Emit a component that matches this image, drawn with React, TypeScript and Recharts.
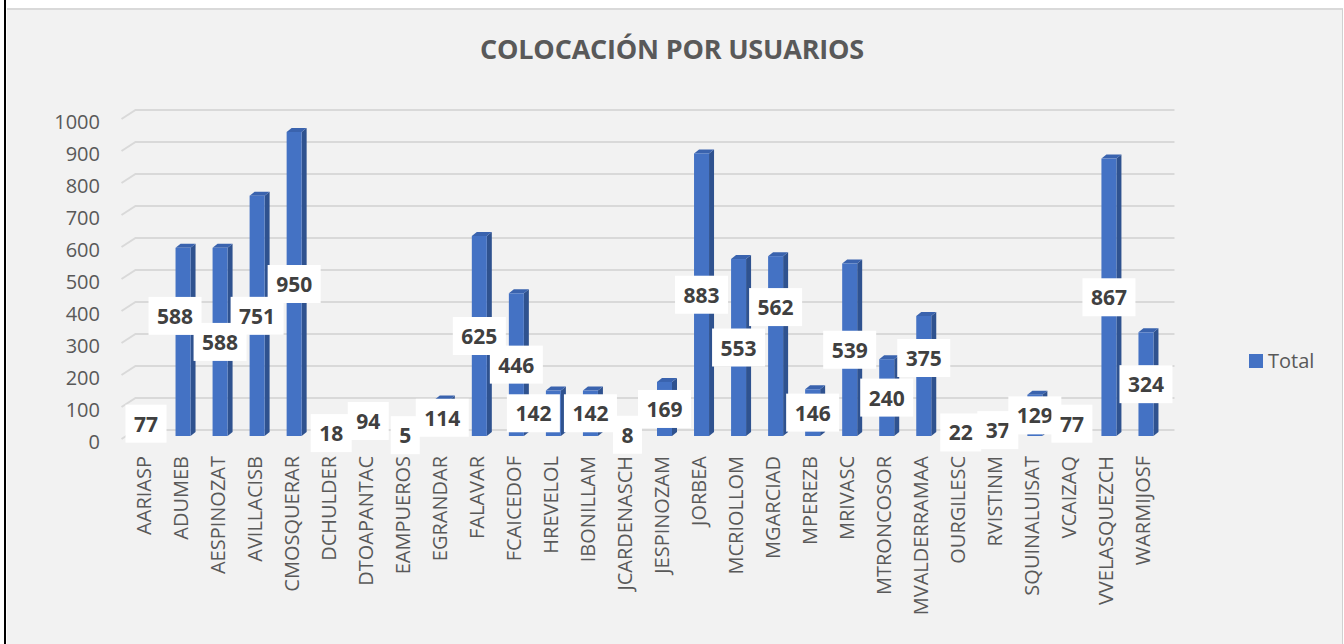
import React from 'react';
import { BarChart, Bar, XAxis, YAxis, CartesianGrid, LabelList } from 'recharts';

const usuarios = [
  'AARIASP', 'ADUMEB', 'AESPINOZAT', 'AVILLACISB', 'CMOSQUERAR', 'DCHULDER', 'DTOAPANTAC',
  'EAMPUEROS', 'EGRANDAR', 'FALAVAR', 'FCAICEDOF', 'HREVELOL', 'IBONILLAM', 'JCARDENASCH',
  'JESPINOZAM', 'JORBEA', 'MCRIOLLOM', 'MGARCIAD', 'MPEREZB', 'MRIVASC', 'MTRONCOSOR',
  'MVALDERRAMAA', 'OURGILESC', 'RVISTINM', 'SQUINALUISAT', 'VCAIZAQ', 'VVELASQUEZCH', 'WARMIJOSF',
];
const total = [
  77, 588, 588, 751, 950, 18, 94,
  5, 114, 625, 446, 142, 142, 8,
  169, 883, 553, 562, 146, 539, 240,
  375, 22, 37, 129, 77, 867, 324,
];
const yTicks = [0, 100, 200, 300, 400, 500, 600, 700, 800, 900, 1000];

// Excel moved a few labels so they would not overlap
const labelNudge: Record<string, { dx: number; dy: number }> = {
  ADUMEB: { dx: -8, dy: -26 },
  HREVELOL: { dx: -20, dy: 0 },
  MGARCIAD: { dx: 0, dy: -39 },
  MVALDERRAMAA: { dx: 0, dy: -18 },
};

const data = usuarios.map((u, i) => ({ usuario: u, total: total[i] }));

const FONT = '"Open Sans", "Liberation Sans", sans-serif';
const TEXT = '#595959';
const DEPTH_X = 5;
const DEPTH_Y = 4;

const Column3D = (props: any) => {
  const { x, y, width, height } = props;
  if (width == null || height == null) return null;
  const h = Math.max(height, 0);
  return (
    <g>
      <polygon
        points={`${x + width},${y} ${x + width + DEPTH_X},${y - DEPTH_Y} ${x + width + DEPTH_X},${y + h - DEPTH_Y} ${x + width},${y + h}`}
        fill="#2F528F"
      />
      <polygon
        points={`${x},${y} ${x + DEPTH_X},${y - DEPTH_Y} ${x + width + DEPTH_X},${y - DEPTH_Y} ${x + width},${y}`}
        fill="#3A63AE"
      />
      <rect x={x} y={y} width={width} height={h} fill="#4472C4" />
    </g>
  );
};

const GridLine = (props: any) => {
  const { x1, x2, y1 } = props;
  return (
    <path
      d={`M${x1 - 6},${y1 + 3} L${x1 + 8},${y1 - 6} L${x2 + 10},${y1 - 6}`}
      stroke="#D9D9D9"
      strokeWidth={2}
      fill="none"
    />
  );
};

const DataLabel = (props: any) => {
  const { x, y, width, height, value, index } = props;
  const name = usuarios[index];
  const n = labelNudge[name] || { dx: 0, dy: 0 };
  const cx = x + width / 2 + n.dx;
  const cy = y + height / 2 + n.dy;
  const w = String(value).length * 12 + 17;
  const hh = 38;
  return (
    <g>
      <rect x={cx - w / 2} y={cy - hh / 2} width={w} height={hh} fill="#ffffff" />
      <text
        x={cx}
        y={cy}
        textAnchor="middle"
        dominantBaseline="central"
        fontFamily={FONT}
        fontWeight={700}
        fontSize={21}
        fill="#404040"
      >
        {value}
      </text>
    </g>
  );
};

const CategoryTick = (props: any) => {
  const { x, y, payload } = props;
  return (
    <text
      transform={`translate(${x - 3},${y + 12}) rotate(-90)`}
      textAnchor="end"
      dominantBaseline="central"
      fontFamily={FONT}
      fontSize={20}
      fill={TEXT}
    >
      {payload.value}
    </text>
  );
};

const ValueTick = (props: any) => {
  const { y, payload } = props;
  return (
    <text x={100} y={y + 5} textAnchor="end" dominantBaseline="central" fontFamily={FONT} fontSize={20} fill={TEXT}>
      {payload.value}
    </text>
  );
};

export default function App() {
  return (
    <div style={{ position: 'absolute', left: 0, top: 0, width: 1344, height: 644, background: '#ffffff', overflow: 'hidden' }}>
      <div
        style={{
          position: 'absolute',
          left: 7,
          top: 8,
          width: 1335,
          height: 640,
          background: '#F2F2F2',
          borderTop: '2px solid #D9D9D9',
          borderRight: '1px solid #D0D0D0',
        }}
      />
      <div style={{ position: 'absolute', left: 4, top: 0, width: 2, height: 644, background: '#000000' }} />
      <div
        style={{
          position: 'absolute',
          left: 0,
          top: 30,
          width: 1344,
          textAlign: 'center',
          fontFamily: FONT,
          fontWeight: 700,
          fontSize: 27,
          color: TEXT,
          letterSpacing: -0.2,
        }}
      >
        COLOCACIÓN POR USUARIOS
      </div>
      <div
        style={{
          position: 'absolute',
          left: 1249,
          top: 347,
          display: 'flex',
          alignItems: 'center',
          fontFamily: FONT,
          fontSize: 20,
          color: TEXT,
        }}
      >
        <span style={{ width: 14, height: 14, background: '#4472C4', display: 'inline-block', marginRight: 5 }} />
        <span>Total</span>
      </div>
      <div style={{ position: 'absolute', left: 0, top: 0 }}>
        <BarChart width={1344} height={644} data={data} margin={{ top: 116, right: 179.5, bottom: 0, left: 0 }}>
          <CartesianGrid vertical={false} horizontal={(p: any) => <GridLine key={p.key} {...p} />} />
          <XAxis
            dataKey="usuario"
            height={208}
            interval={0}
            axisLine={false}
            tickLine={false}
            tick={<CategoryTick />}
          />
          <YAxis
            width={127.5}
            domain={[0, 1000]}
            ticks={yTicks}
            axisLine={false}
            tickLine={false}
            tick={<ValueTick />}
          />
          <Bar dataKey="total" name="Total" barSize={15} shape={<Column3D />} isAnimationActive={false}>
            <LabelList dataKey="total" content={<DataLabel />} />
          </Bar>
        </BarChart>
      </div>
    </div>
  );
}
